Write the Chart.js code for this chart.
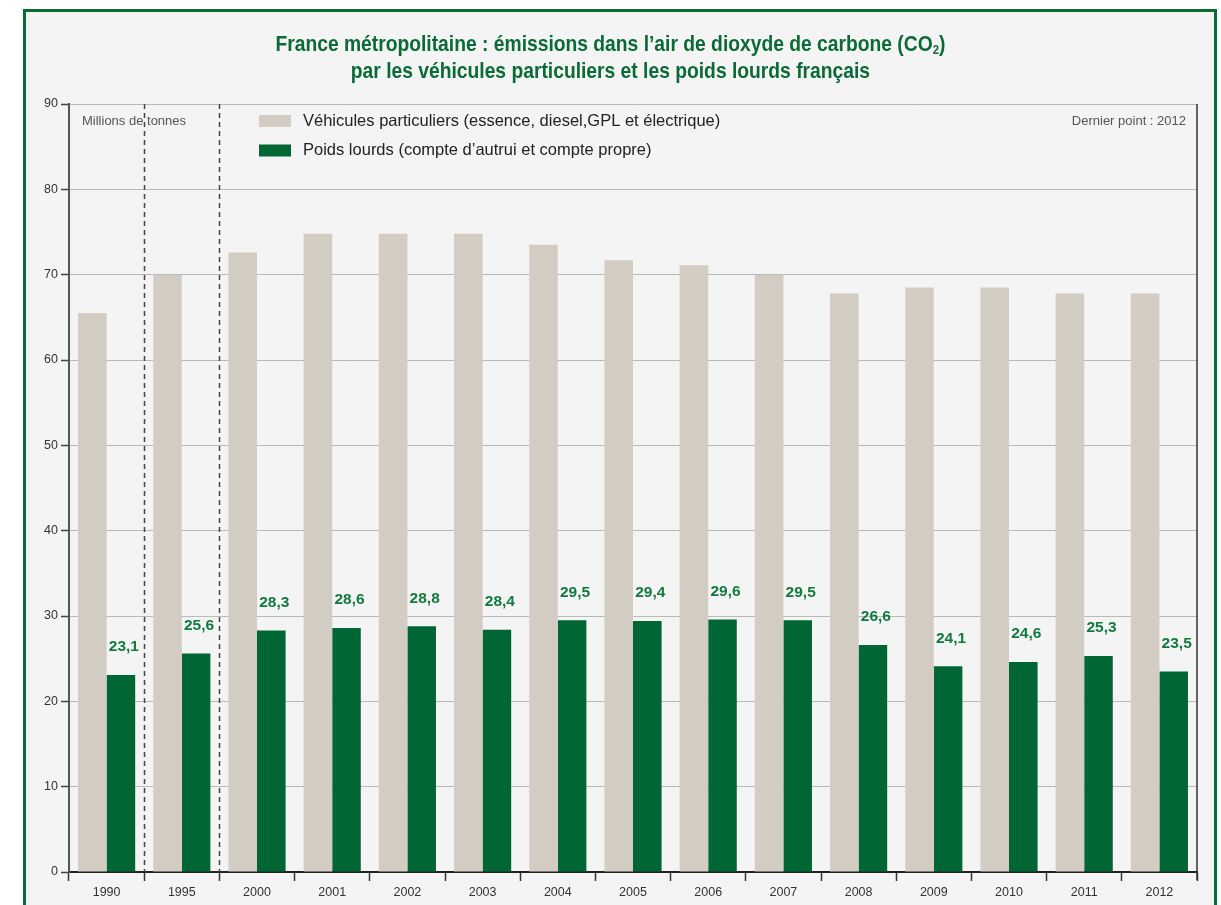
<!DOCTYPE html>
<html lang="fr">
<head>
<meta charset="utf-8">
<script src="https://cdn.jsdelivr.net/npm/chart.js@4.4.0/dist/chart.umd.min.js"></script>
<style>
  html, body { margin: 0; padding: 0; background: #ffffff; }
  #frame {
    position: absolute; left: 23px; top: 9px; width: 1188px; height: 910px;
    border: 3px solid #0b6b37; background: #f4f4f4;
  }
  #title {
    position: absolute; left: 0; top: 30px; width: 1221px; text-align: center;
    font-family: "Liberation Sans", Arial, sans-serif;
    font-weight: bold; font-size: 22px; line-height: 27px; color: #0b6b37;
    transform-origin: 610px 0;
    z-index: 2;
  }
  #title span { display: inline-block; white-space: nowrap; }
  #title sub { font-size: 13px; vertical-align: -3px; line-height: 0; }
  #wrap { position: absolute; left: 0; top: 0; width: 1221px; height: 905px; }
</style>
</head>
<body>
<div id="frame"></div>
<div id="title"><span id="t1">France métropolitaine : émissions dans l’air de dioxyde de carbone (CO<sub>2</sub>)</span><br><span>par les véhicules particuliers et les poids lourds français</span></div>
<div id="wrap"><canvas id="co2Chart" width="1221" height="905"></canvas></div>
<script>
// Categories and series (millions de tonnes)
const years = ['1990', '1995', '2000', '2001', '2002', '2003', '2004', '2005', '2006', '2007', '2008', '2009', '2010', '2011', '2012'];
const vehiculesParticuliers = [65.5, 70.0, 72.6, 74.8, 74.8, 74.8, 73.5, 71.7, 71.1, 70.0, 67.8, 68.5, 68.5, 67.8, 67.8];
const poidsLourds = [23.1, 25.6, 28.3, 28.6, 28.8, 28.4, 29.5, 29.4, 29.6, 29.5, 26.6, 24.1, 24.6, 25.3, 23.5];
const yTicks = [0, 10, 20, 30, 40, 50, 60, 70, 80, 90];
const seriesLabels = ['Véhicules particuliers (essence, diesel,GPL et électrique)', 'Poids lourds (compte d’autrui et compte propre)'];

const GRAY = '#d3ccc2';
const GREEN = '#006633';
const FONT = '"Liberation Sans", Arial, Helvetica, sans-serif';

// squeeze the title to look like a condensed face
const t1 = document.getElementById('t1');
const sx = 670 / t1.getBoundingClientRect().width;
document.getElementById('title').style.transform = 'scaleX(' + sx + ')';

// Extra drawings: dashed separators, right border, legend, notes, value labels
const decorPlugin = {
  id: 'decor',
  beforeDatasetsDraw(chart) {
    const { ctx, chartArea, scales } = chart;
    const x = scales.x;
    ctx.save();
    // dashed separators between 1990|1995 and 1995|2000
    ctx.strokeStyle = '#444';
    ctx.lineWidth = 1.5;
    ctx.setLineDash([5, 4]);
    [0, 1].forEach(i => {
      const px = Math.round((x.getPixelForValue(i) + x.getPixelForValue(i + 1)) / 2) + 0.5;
      ctx.beginPath();
      ctx.moveTo(px, chartArea.top);
      ctx.lineTo(px, chartArea.bottom);
      ctx.stroke();
    });
    ctx.restore();
  },
  afterDraw(chart) {
    const { ctx, chartArea } = chart;
    ctx.save();
    // right border
    ctx.strokeStyle = '#333';
    ctx.lineWidth = 1.5;
    ctx.beginPath();
    ctx.moveTo(chartArea.right, chartArea.top);
    ctx.lineTo(chartArea.right, chartArea.bottom + 8);
    ctx.stroke();

    // notes
    ctx.fillStyle = '#555';
    ctx.font = '13px ' + FONT;
    ctx.textBaseline = 'middle';
    ctx.textAlign = 'left';
    ctx.fillText('Millions de tonnes', chartArea.left + 13, 121);
    ctx.textAlign = 'right';
    ctx.fillText('Dernier point : 2012', chartArea.right - 11, 121);

    // legend
    const legendColors = [GRAY, GREEN];
    ctx.textAlign = 'left';
    ctx.font = '16.5px ' + FONT;
    seriesLabels.forEach((lbl, i) => {
      const cy = 121 + i * 29.5;
      ctx.fillStyle = legendColors[i];
      ctx.fillRect(259, cy - 6, 32, 12);
      ctx.fillStyle = '#222';
      ctx.fillText(lbl, 303, cy);
    });

    // value labels over green bars
    const meta = chart.getDatasetMeta(1);
    ctx.fillStyle = '#117a3f';
    ctx.font = 'bold 15.5px ' + FONT;
    ctx.textAlign = 'center';
    meta.data.forEach((bar, i) => {
      ctx.fillText(poidsLourds[i].toFixed(1).replace('.', ','), bar.x + 3, bar.y - 28);
    });
    ctx.restore();
  }
};

new Chart(document.getElementById('co2Chart'), {
  type: 'bar',
  data: {
    labels: years,
    datasets: [
      {
        label: seriesLabels[0],
        data: vehiculesParticuliers,
        backgroundColor: GRAY,
        borderWidth: 0,
        categoryPercentage: 0.76,
        barPercentage: 1.0
      },
      {
        label: seriesLabels[1],
        data: poidsLourds,
        backgroundColor: GREEN,
        borderWidth: 0,
        categoryPercentage: 0.76,
        barPercentage: 1.0
      }
    ]
  },
  options: {
    responsive: false,
    animation: false,
    layout: { padding: { left: 0, top: 104, right: 24, bottom: 0 } },
    plugins: {
      legend: { display: false },
      tooltip: { enabled: false }
    },
    scales: {
      x: {
        afterFit: (s) => { s.height = 33; },
        grid: {
          offset: true,
          drawOnChartArea: false,
          drawTicks: true,
          tickLength: 9,
          tickColor: '#333',
          tickWidth: 1.5
        },
        border: { color: '#222', width: 2 },
        ticks: { color: '#333', font: { family: FONT, size: 12.5 }, padding: 4 }
      },
      y: {
        min: 0,
        max: 90,
        afterFit: (s) => { s.width = 69; },
        afterBuildTicks: (s) => { s.ticks = yTicks.map(v => ({ value: v })); },
        grid: {
          color: '#b9b9b9',
          lineWidth: 1,
          drawTicks: true,
          tickLength: 8,
          tickColor: '#444',
          tickWidth: 1.5
        },
        border: { color: '#555', width: 2 },
        ticks: { color: '#333', font: { family: FONT, size: 12.5 }, padding: 3 }
      }
    }
  },
  plugins: [decorPlugin]
});
</script>
</body>
</html>
